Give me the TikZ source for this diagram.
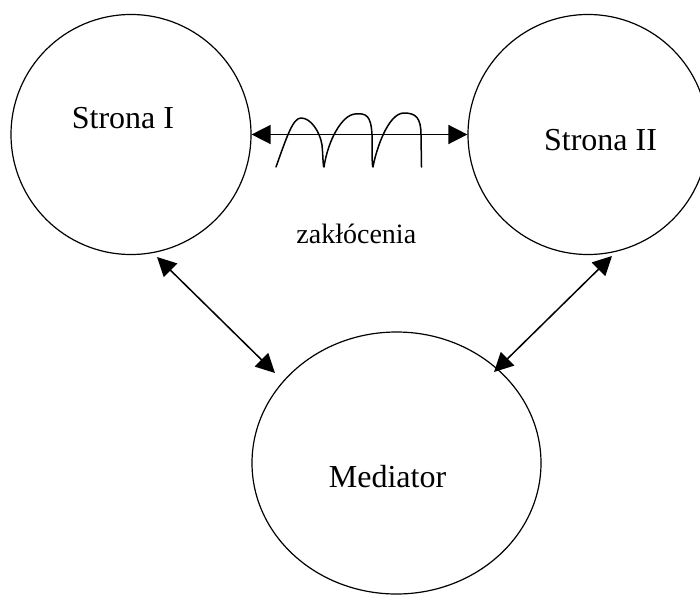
\documentclass[tikz,border=0pt]{standalone}
\usepackage{fontspec}
\setmainfont{Liberation Serif}
\usetikzlibrary{shapes.geometric,arrows.meta}
\begin{document}
\begin{tikzpicture}[x=1pt,y=-1pt,
  party/.style={draw, circle, line width=1.2pt, minimum size=240pt, inner sep=0pt},
  lbl/.style={anchor=base, inner sep=0pt, font=\fontsize{32}{38}\selectfont},
  small/.style={anchor=base, inner sep=0pt, font=\fontsize{28}{34}\selectfont},
  link/.style={line width=1.5pt, {Triangle[length=19pt,width=19pt]}-{Triangle[length=19pt,width=19pt]}}
]
\useasboundingbox (0,0) rectangle (700,594);
\node[party] (s1) at (131,134.5) {};
\node[party] (s2) at (588,134.5) {};
\node[draw, ellipse, line width=1.2pt, minimum width=289pt, minimum height=262pt, inner sep=0pt] (m) at (396.5,463) {};
\node[lbl] (t1) at (123,128) {Strona I};
\node[lbl] (t2) at (600.5,150) {Strona II};
\node[lbl] (t3) at (387.5,487) {Mediator};
\node[small] (t4) at (356.3,243.3) {zakłócenia};
\coordinate (a1) at (157,257);
\coordinate (b1) at (275,373);
\coordinate (a2) at (612,256);
\coordinate (b2) at (494,372);
\draw[link] (s1.east) -- (s2.west);
\draw[link] (a1) -- (b1);
\draw[link] (a2) -- (b2);
\draw[line width=1.5pt, line cap=round, line join=round]
  (276,167) .. controls (287,136) and (293,118) .. (301,118)
  .. controls (311,118) and (320,132) .. (322,145)
  .. controls (323,155) and (323,167) .. (324,167)
  .. controls (328,140) and (342,115) .. (355,114)
  .. controls (366,113) and (371,115) .. (372,135)
  .. controls (372,150) and (372,167) .. (373,167)
  .. controls (376,150) and (388,113) .. (404,113)
  .. controls (416,113) and (421,118) .. (421,135)
  -- (421.5,167);
\end{tikzpicture}
\end{document}
